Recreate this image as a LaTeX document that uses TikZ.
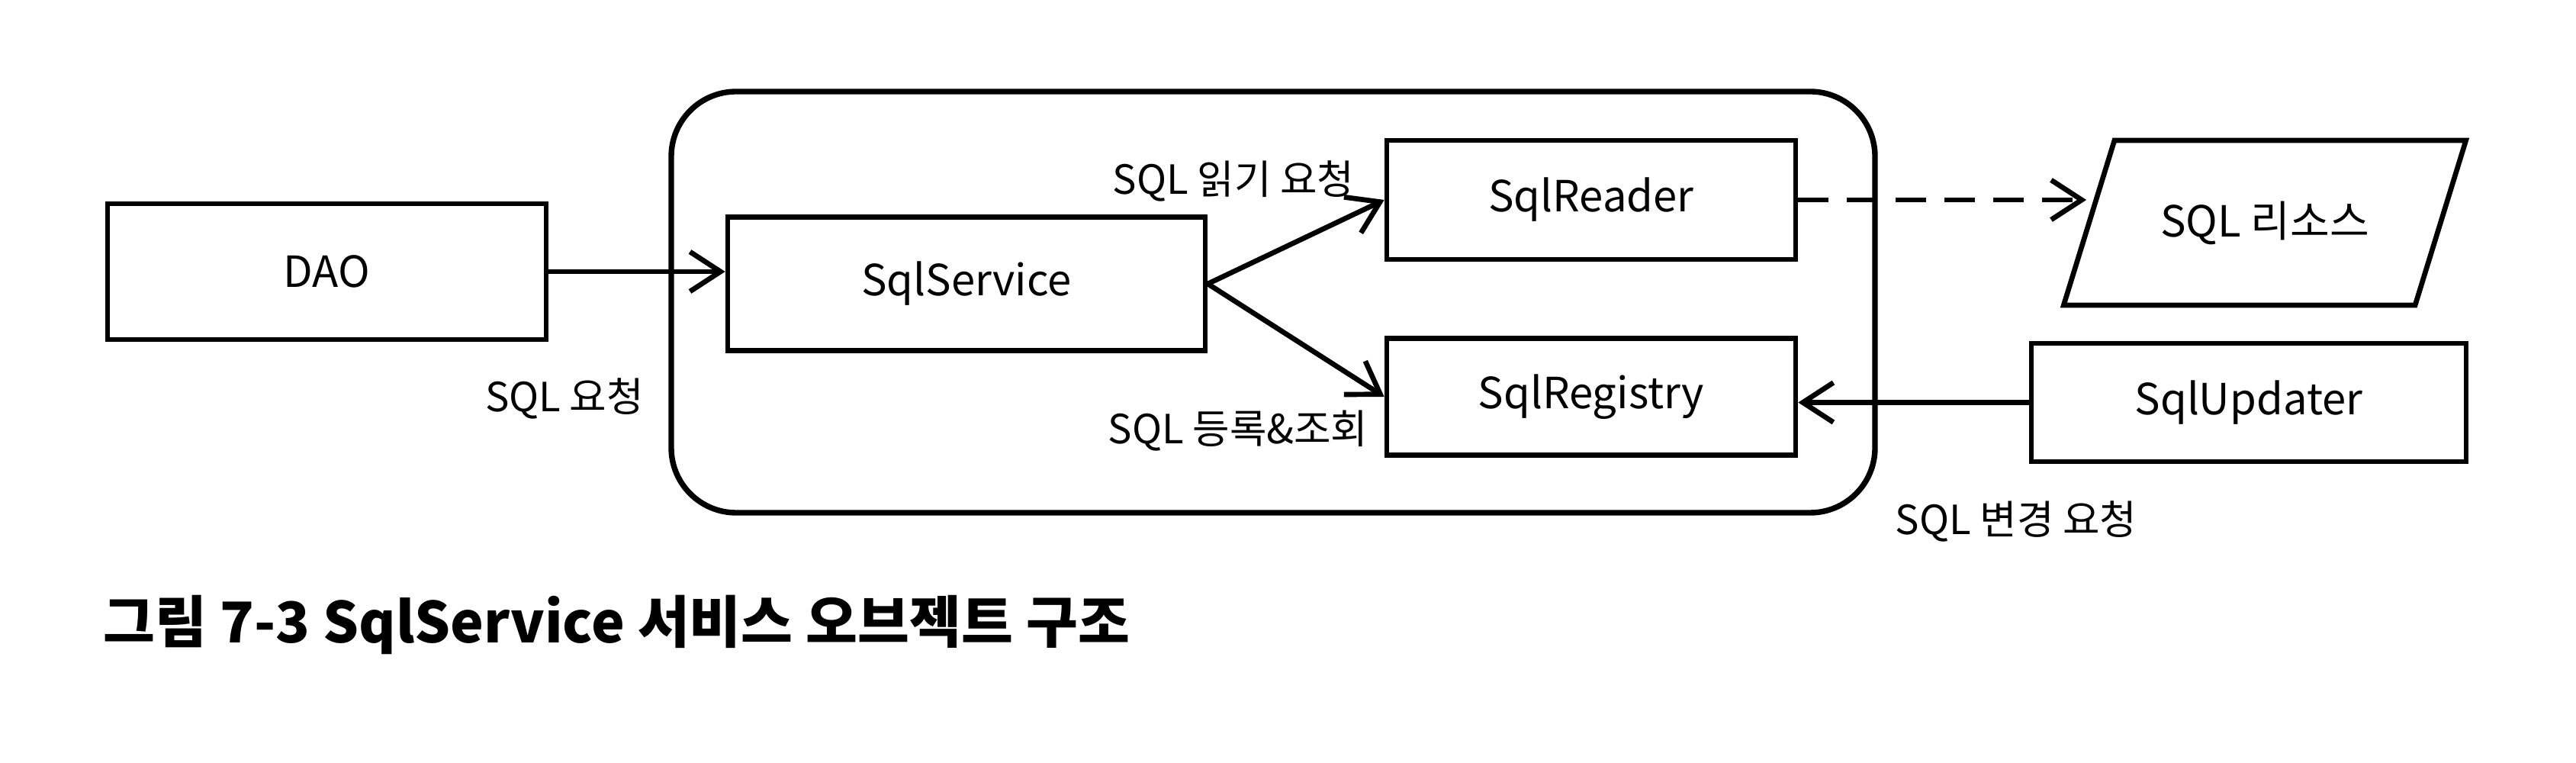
\documentclass[tikz,border=0pt]{standalone}
\usepackage{fontspec}
\setmainfont{Noto Sans CJK KR}
\usetikzlibrary{arrows.meta,shapes.geometric}

\begin{document}
\begin{tikzpicture}[box/.style={
                rectangle, draw, line width=1.9pt, font=\fontsize{16}{19}\selectfont},
            lbl/.style={font=\fontsize{15}{18}\selectfont, inner sep=0pt},
            link/.style={line width=1.9pt, -{Straight Barb[length=4mm,width=5.2mm]}}]

            \useasboundingbox (0,0) rectangle (33.77,-10);

            % service object boundary
            \node [rectangle, draw, rounded corners=0.85cm, line width=2.1pt,
            minimum width=15.78cm, minimum height=5.52cm] (svcbox) at (16.69,-3.96) {};

            \node [box, minimum width=5.75cm, minimum height=1.78cm] (dao) at (4.285,-3.56) {DAO};
            \node [box, minimum width=6.26cm, minimum height=1.75cm] (svc) at (12.67,-3.72) {SqlService};
            \node [box, minimum width=5.36cm, minimum height=1.56cm] (rd) at (20.86,-2.62) {SqlReader};
            \node [box, minimum width=5.36cm, minimum height=1.53cm] (reg) at (20.86,-5.2) {SqlRegistry};
            \node [box, minimum width=5.7cm, minimum height=1.55cm] (upd) at (29.48,-5.275) {SqlUpdater};
            \node [box, trapezium, trapezium left angle=58, trapezium right angle=122,
            trapezium stretches, minimum width=5.28cm, minimum height=2.16cm] (res) at (29.69,-2.92) {SQL 리소스};

            \node [lbl] (lreq) at (7.40,-5.22) {SQL 요청};
            \node [lbl] (lread) at (16.17,-2.37) {SQL 읽기 요청};
            \node [lbl] (lreg) at (16.23,-5.65) {SQL 등록\&조회};
            \node [lbl] (lupd) at (26.43,-6.83) {SQL 변경 요청};

            \draw [link] (dao.east) -- (dao.east -| svc.west);
            \draw [link] (svc.east) -- (rd.west);
            \draw [link] (svc.east) -- (reg.west);
            \draw [link, dash pattern=on 4mm off 2.4mm] (rd.east) -- (rd.east -| res.west);
            \draw [link] (upd.west) -- (upd.west -| reg.east);

            \node [anchor=west, inner sep=0pt, font=\bfseries\fontsize{21}{25}\selectfont] (cap) at (1.35,-8.19)
            {그림 7-3 SqlService 서비스 오브젝트 구조};

        \end{tikzpicture}
\end{document}
